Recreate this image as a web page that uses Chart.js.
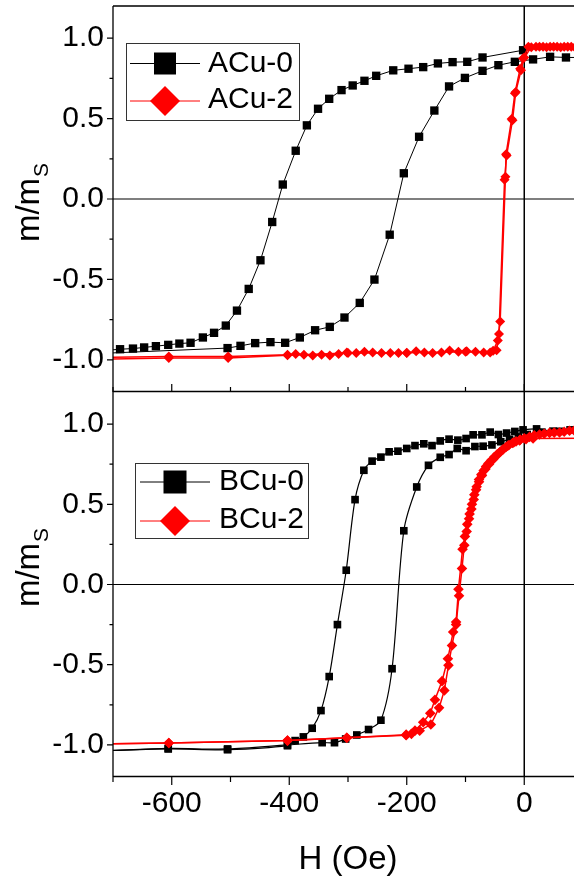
<!DOCTYPE html>
<html><head><meta charset="utf-8">
<script src="https://cdn.jsdelivr.net/npm/chart.js@4.4.0/dist/chart.umd.min.js"></script>
<style>
html,body{margin:0;padding:0;background:#fff;overflow:hidden;width:574px;height:876px}
#wrap{position:relative;width:574px;height:876px;overflow:hidden;background:#fff}
canvas{position:absolute;left:0}
#c1{top:0}
#c2{top:385px}
</style></head><body>
<div id="wrap"><canvas id="c1" width="600" height="400" style="width:600px;height:400px"></canvas><canvas id="c2" width="600" height="491" style="width:600px;height:491px"></canvas></div>
<script>
// ---------- axis ticks ----------
const xTickLabels = [-600, -400, -200, 0];
const xMinorTicks = [-700, -500, -300, -100, 100];
const yTickLabels = [-1, -0.5, 0, 0.5, 1];
const yMinorTicks = [-0.75, -0.25, 0.25, 0.75];
const xRange = [-700, 100];
const yRange = [-1.2, 1.2];

// ---------- top panel: ACu-0 ----------
const acu0DownH = [-2, -71, -97, -122, -147, -172, -197, -223, -252, -272, -292, -311, -332, -351, -370, -389, -411, -429, -449, -469, -489, -508, -528, -547, -568, -587, -606, -627, -647, -666, -688, -708];
const acu0DownM = [0.925, 0.88, 0.853, 0.851, 0.843, 0.82, 0.81, 0.80, 0.766, 0.735, 0.706, 0.677, 0.623, 0.561, 0.458, 0.30, 0.09, -0.143, -0.381, -0.559, -0.694, -0.787, -0.832, -0.861, -0.894, -0.899, -0.907, -0.915, -0.923, -0.93, -0.934, -0.94];
const acu0UpH = [-720, -505, -483, -458, -432, -407, -382, -356, -331, -306, -280, -255, -229, -205, -179, -153, -128, -101, -71, -44, -16, 15, 44, 71, 98];
const acu0UpM = [-0.96, -0.927, -0.913, -0.896, -0.89, -0.894, -0.861, -0.816, -0.795, -0.737, -0.646, -0.501, -0.222, 0.16, 0.387, 0.55, 0.70, 0.753, 0.797, 0.832, 0.853, 0.868, 0.884, 0.88, 0.88];

// ---------- top panel: ACu-2 ----------
const acu2DownH = [92, 80, 68, 56, 44, 32, 20, 7, -2, -7, -16, -21.5, -31, -32, -41, -45, -53, -69, -83, -98, -112, -127, -141, -156, -170, -184, -200, -214, -228, -243, -258, -272, -286, -302, -316, -331, -345, -360, -375, -389, -403, -504, -605, -710];
const acu2DownM = [0.946, 0.946, 0.946, 0.946, 0.946, 0.946, 0.946, 0.946, 0.874, 0.81, 0.657, 0.497, 0.278, 0.139, -0.762, -0.88, -0.944, -0.954, -0.95, -0.946, -0.95, -0.942, -0.954, -0.958, -0.954, -0.946, -0.958, -0.958, -0.958, -0.958, -0.954, -0.95, -0.958, -0.954, -0.963, -0.973, -0.969, -0.973, -0.969, -0.963, -0.969, -0.98, -0.98, -0.985];
const acu2UpH = [-710, -605, -504, -403, -300, -200, -100, -58, -47, -43, -33.5, -30, -20, -14.5, -5.5, 0, 12, 26, 38, 50, 62, 74, 86, 98];
const acu2UpM = [-0.995, -0.988, -0.988, -0.972, -0.958, -0.956, -0.95, -0.955, -0.94, -0.84, 0.12, 0.27, 0.49, 0.665, 0.80, 0.88, 0.944, 0.946, 0.944, 0.946, 0.944, 0.946, 0.944, 0.946];

// ---------- bottom panel: BCu-0 ----------
const bcu0DownH = [95, 78, 49, 21, -2, -16, -30, -44, -58, -72, -87, -99, -113, -128, -143, -157, -171, -186, -200, -215, -230, -244, -259, -273, -288, -303, -318, -332, -346, -361, -376, -390, -403, -505, -606, -710];
const bcu0DownM = [0.96, 0.964, 0.956, 0.97, 0.964, 0.954, 0.944, 0.935, 0.95, 0.933, 0.933, 0.91, 0.9, 0.906, 0.895, 0.866, 0.877, 0.866, 0.848, 0.831, 0.827, 0.794, 0.769, 0.712, 0.529, 0.089, -0.25, -0.574, -0.786, -0.896, -0.95, -0.973, -1.005, -1.03, -1.025, -1.036];
const bcu0UpH = [-710, -606, -505, -403, -344, -323, -304, -285, -265, -244, -225, -205, -183, -163, -143, -128, -114, -99, -84, -70, -55, -40, -25, -10, 5, 30, 60, 95];
const bcu0UpM = [-1.036, -1.022, -1.025, -1.0, -0.986, -0.986, -0.963, -0.938, -0.904, -0.846, -0.525, 0.335, 0.608, 0.743, 0.793, 0.81, 0.848, 0.834, 0.86, 0.862, 0.87, 0.89, 0.905, 0.92, 0.935, 0.95, 0.955, 0.96];

// ---------- bottom panel: BCu-2 ----------
const bcu2DownH = [95, 85, 77, 68, 60, 51, 43, 34, 26, 17, 9, 0, -7, -14, -20, -26, -31, -36, -41, -46, -51, -56, -61, -65, -69, -73, -77, -81, -85, -89, -93, -97, -101, -105, -112, -116, -121, -130, -140, -152, -160, -172, -186, -201, -302, -403, -605, -710];
const bcu2DownM = [0.962, 0.96, 0.958, 0.952, 0.948, 0.947, 0.945, 0.94, 0.935, 0.93, 0.92, 0.912, 0.903, 0.892, 0.882, 0.87, 0.857, 0.842, 0.828, 0.812, 0.795, 0.775, 0.755, 0.735, 0.71, 0.685, 0.655, 0.61, 0.56, 0.5, 0.44, 0.375, 0.3, 0.22, -0.03, -0.234, -0.296, -0.4625, -0.6025, -0.719, -0.8025, -0.859, -0.911, -0.936, -0.955, -0.973, -0.988, -0.994];
const bcu2UpH = [-710, -605, -403, -302, -201, -192, -178, -159, -145, -136, -129, -123, -116, -111, -106, -102, -98, -94, -90, -86, -82, -77, -72, -66, -60, -53, -45, -37, -28, -18, -8, 3, 15, 150];
const bcu2UpM = [-0.994, -0.988, -0.973, -0.955, -0.94, -0.931, -0.911, -0.873, -0.769, -0.66, -0.504, -0.38, -0.25, -0.07, 0.1, 0.245, 0.33, 0.41, 0.47, 0.53, 0.59, 0.64, 0.68, 0.72, 0.75, 0.78, 0.81, 0.84, 0.865, 0.885, 0.898, 0.905, 0.91, 0.912];

// ---------- rendering ----------
const FONT = "'Liberation Sans', Arial, Helvetica, sans-serif";
Chart.defaults.font.family = FONT;
Chart.defaults.color = '#000';

function pts(h, m) { return h.map((v, i) => ({x: v, y: m[i]})); }

function drawDiamond(ctx, cx, cy, r) {
  ctx.beginPath();
  ctx.moveTo(cx, cy - r); ctx.lineTo(cx + r, cy); ctx.lineTo(cx, cy + r); ctx.lineTo(cx - r, cy);
  ctx.closePath(); ctx.fill();
}

function noPad(s) { s.paddingTop = 0; s.paddingBottom = 0; s.paddingLeft = 0; s.paddingRight = 0; }

const decor = {
  id: 'decor',
  beforeDatasetsDraw(chart, args, o) {
    const {ctx, chartArea: a, scales: {x, y}} = chart;
    ctx.save();
    ctx.strokeStyle = '#000';
    ctx.lineWidth = 1.2;
    const py = y.getPixelForValue(0);
    ctx.beginPath(); ctx.moveTo(a.left, py); ctx.lineTo(a.right, py); ctx.stroke();
    ctx.lineWidth = 1.5;
    const px = x.getPixelForValue(0);
    ctx.beginPath(); ctx.moveTo(px, a.top); ctx.lineTo(px, a.bottom); ctx.stroke();
    ctx.restore();
  },
  afterDatasetsDraw(chart, args, o) {
    const {ctx, chartArea: a, scales: {x, y}} = chart;
    ctx.save();
    ctx.strokeStyle = '#000';
    ctx.lineWidth = 1.3;
    ctx.beginPath();
    ctx.moveTo(a.left, a.top); ctx.lineTo(a.left, a.bottom);
    if (o.topBorder) { ctx.moveTo(a.left, a.top); ctx.lineTo(a.right, a.top); }
    ctx.moveTo(a.left, a.bottom - 0.5); ctx.lineTo(a.right, a.bottom - 0.5);
    ctx.stroke();
    ctx.lineWidth = 1.2;
    ctx.beginPath();
    yTickLabels.forEach(v => { const p = y.getPixelForValue(v); ctx.moveTo(a.left, p); ctx.lineTo(a.left - 6, p); });
    yMinorTicks.forEach(v => { const p = y.getPixelForValue(v); ctx.moveTo(a.left, p); ctx.lineTo(a.left - 3.5, p); });
    const dir = o.xTickDir === 'in' ? -1 : 1;
    xTickLabels.forEach(v => { const p = x.getPixelForValue(v); ctx.moveTo(p, a.bottom); ctx.lineTo(p, a.bottom + dir * 8); });
    xMinorTicks.forEach(v => { const p = x.getPixelForValue(v); ctx.moveTo(p, a.bottom); ctx.lineTo(p, a.bottom + dir * 5); });
    ctx.stroke();
    ctx.restore();
  },
  afterDraw(chart, args, o) {
    const ctx = chart.ctx;
    // y title with subscript
    ctx.save();
    ctx.translate(o.title.x, o.title.y);
    ctx.rotate(-Math.PI / 2);
    ctx.fillStyle = '#000';
    ctx.textBaseline = 'alphabetic'; ctx.textAlign = 'left';
    ctx.font = `33px ${FONT}`;
    const w1 = ctx.measureText('m/m').width;
    ctx.font = `21px ${FONT}`;
    const w2 = ctx.measureText('S').width;
    const x0 = -(w1 + w2) / 2;
    ctx.font = `33px ${FONT}`;
    ctx.fillText('m/m', x0, 0);
    ctx.font = `21px ${FONT}`;
    ctx.fillText('S', x0 + w1 + 1, 9);
    ctx.restore();
    // legend
    const L = o.legend;
    ctx.save();
    ctx.fillStyle = '#fff';
    ctx.fillRect(L.x, L.y, L.w, L.h);
    ctx.strokeStyle = '#333'; ctx.lineWidth = 1;
    ctx.strokeRect(L.x + 0.5, L.y + 0.5, L.w, L.h);
    L.rows.forEach(r => {
      const ds = chart.data.datasets[r.ds];
      ctx.strokeStyle = ds.borderColor; ctx.lineWidth = 1;
      ctx.beginPath(); ctx.moveTo(L.lx1, r.my); ctx.lineTo(L.lx2, r.my); ctx.stroke();
      ctx.fillStyle = ds.borderColor;
      if (ds.pointStyle === 'rect') ctx.fillRect(L.mx - r.size / 2, r.my - r.size / 2, r.size, r.size);
      else drawDiamond(ctx, L.mx, r.my, r.size / 2);
      ctx.fillStyle = '#000';
      ctx.font = `30px ${FONT}`;
      ctx.textBaseline = 'middle'; ctx.textAlign = 'left';
      ctx.fillText(ds.label, L.tx, r.ty);
    });
    ctx.restore();
  }
};

function makeSeries(label, h, m, color, marker, r, lw, tension, order) {
  return {
    label, data: pts(h, m), showLine: true,
    borderColor: color, backgroundColor: color, borderWidth: lw,
    pointStyle: marker, pointRadius: r, pointHoverRadius: r,
    pointBorderWidth: 0, pointBackgroundColor: color,
    tension, order
  };
}

function panel(id, datasets, cfg) {
  return new Chart(document.getElementById(id), {
    type: 'scatter',
    data: {datasets},
    options: {
      responsive: false, animation: false, devicePixelRatio: 1, events: [],
      layout: {padding: {left: 0, right: 17, top: cfg.padTop, bottom: 0}},
      plugins: {legend: {display: false}, tooltip: {enabled: false}, decor: cfg.decor},
      scales: {
        x: {
          type: 'linear', min: xRange[0], max: xRange[1],
          afterBuildTicks: s => { s.ticks = xTickLabels.map(v => ({value: v})); },
          afterFit: s => { s.height = cfg.xHeight; noPad(s); },
          grid: {display: false, drawTicks: false},
          border: {display: false},
          ticks: {display: cfg.showX, padding: 9, color: '#000', font: {size: 30, lineHeight: 1.2}, maxRotation: 0, autoSkip: false, callback: v => String(v)},
          title: {display: cfg.showX, text: 'H (Oe)', color: '#000', font: {size: 33, lineHeight: 1}, padding: {top: 0, bottom: 0}}
        },
        y: {
          type: 'linear', min: yRange[0], max: yRange[1],
          afterBuildTicks: s => { s.ticks = yTickLabels.map(v => ({value: v})); },
          afterFit: s => { s.width = 113; noPad(s); },
          grid: {display: false, drawTicks: false},
          border: {display: false},
          ticks: {padding: 9, color: '#000', font: {size: 30}, callback: v => v.toFixed(1)}
        }
      }
    },
    plugins: [decor]
  });
}

panel('c1', [
  makeSeries('ACu-2', acu2DownH, acu2DownM, '#ff0000', 'rectRot', 5, 1.5, 0, 0),
  makeSeries('ACu-2', acu2UpH, acu2UpM, '#ff0000', 'rectRot', 5, 1.5, 0, 0),
  makeSeries('ACu-0', acu0DownH, acu0DownM, '#000000', 'rect', 5.9, 1, 0, 1),
  makeSeries('ACu-0', acu0UpH, acu0UpM, '#000000', 'rect', 5.9, 1, 0, 1)
], {
  padTop: 6, xHeight: 8, showX: false,
  decor: {
    topBorder: true, xTickDir: 'in',
    title: {x: 39, y: 203},
    legend: {x: 126, y: 43, w: 173, h: 77, lx1: 130, lx2: 200, mx: 165, tx: 208,
      rows: [{ds: 2, my: 63.5, ty: 64, size: 22}, {ds: 0, my: 101, ty: 100, size: 30}]}
  }
});

panel('c2', [
  makeSeries('BCu-2', bcu2DownH, bcu2DownM, '#ff0000', 'rectRot', 5.3, 1.5, 0, 0),
  makeSeries('BCu-2', bcu2UpH, bcu2UpM, '#ff0000', 'rectRot', 5.3, 1.5, 0, 0),
  makeSeries('BCu-0', bcu0DownH, bcu0DownM, '#000000', 'rect', 5.4, 1.2, 0.3, 1),
  makeSeries('BCu-0', bcu0UpH, bcu0UpM, '#000000', 'rect', 5.4, 1.2, 0.3, 1)
], {
  padTop: 7, xHeight: 99, showX: true,
  decor: {
    topBorder: false, xTickDir: 'out',
    title: {x: 39, y: 568 - 385},
    legend: {x: 135, y: 463 - 385, w: 173, h: 75, lx1: 140, lx2: 210, mx: 175, tx: 219,
      rows: [{ds: 2, my: 482 - 385, ty: 482 - 385, size: 23}, {ds: 0, my: 521 - 385, ty: 520 - 385, size: 30}]}
  }
});
</script>
</body></html>
